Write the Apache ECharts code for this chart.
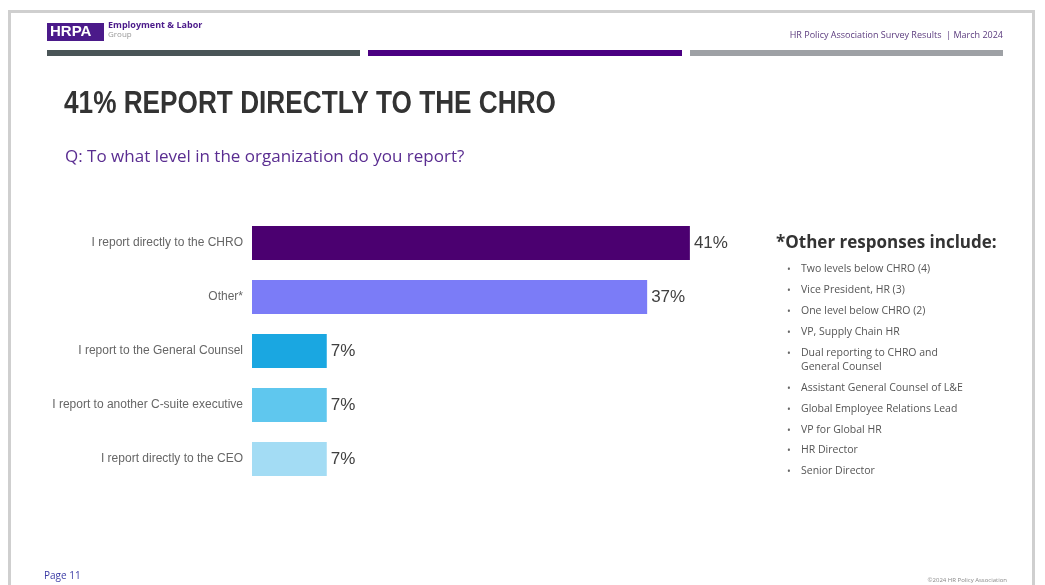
<!DOCTYPE html>
<html><head><meta charset="utf-8">
<script src="https://cdn.jsdelivr.net/npm/echarts@6/dist/echarts.min.js"></script>
<style>
html,body{margin:0;padding:0;background:#fff;}
#frame{position:absolute;left:8px;top:10px;width:1021px;height:600px;border:3px solid #cfcfcf;background:#fff;}
#chart{position:absolute;left:0;top:0;width:1045px;height:585px;}
</style></head>
<body>
<div id="frame"></div>
<div id="chart"></div>
<script>
const categories = ["I report directly to the CHRO","Other*","I report to the General Counsel","I report to another C-suite executive","I report directly to the CEO"];
const values = [41, 37, 7, 7, 7];
const barColors = ["#4b0070","#7b7cf7","#1aa7e1","#5fc7ee","#a3dcf4"];
const otherResponses = ["Two levels below CHRO (4)","Vice President, HR (3)","One level below CHRO (2)","VP, Supply Chain HR","Dual reporting to CHRO and\nGeneral Counsel","Assistant General Counsel of L&E","Global Employee Relations Lead","VP for Global HR","HR Director","Senior Director"];
const titleText = "41% REPORT DIRECTLY TO THE CHRO";
const subtitleText = "Q: To what level in the organization do you report?";

const chart = echarts.init(document.getElementById('chart'), null, {renderer:'canvas'});

const bulletY = [270,291,312,333,354,389,410,431,451,472];
const bulletEls = [];
otherResponses.forEach((t,i)=>{
  bulletEls.push({type:'text',x:787,y:bulletY[i],style:{text:'•',font:'10px "Open Sans"',fill:'#666',verticalAlign:'middle',textVerticalAlign:'middle'}});
  bulletEls.push({type:'text',x:801,y:bulletY[i]-7.5,style:{text:t,font:'10.5px "Open Sans"',fill:'#555',lineHeight:14,verticalAlign:'top',textVerticalAlign:'top'}});
});

chart.setOption({
  animation:false,
  grid:{left:252,top:216,width:534,height:270,containLabel:false},
  xAxis:{type:'value',min:0,max:50,show:false},
  yAxis:{type:'category',data:categories,inverse:true,
    axisLine:{show:false},axisTick:{show:false},
    axisLabel:{color:'#666',fontSize:12,fontFamily:'"Liberation Sans",sans-serif',margin:9}},
  series:[{type:'bar',barWidth:34,
    data:values.map((v,i)=>({value:v,itemStyle:{color:barColors[i]}})),
    label:{show:true,position:'right',distance:4,formatter:'{c}%',color:'#404040',fontSize:17,fontFamily:'"Liberation Sans",sans-serif'}}],
  graphic:[
    {type:'rect',shape:{x:47,y:23,width:57,height:18},style:{fill:'#4b1a8a'}},
    {type:'text',left:50,top:24,style:{text:'HRPA',font:'bold 15px "Liberation Sans"',fill:'#fff'}},
    {type:'text',left:108,top:21,style:{text:'Employment & Labor',font:'bold 9px "Open Sans"',fill:'#4b1a8a'}},
    {type:'text',left:108,top:31,style:{text:'Group',font:'8px "Open Sans"',fill:'#999'}},
    {type:'text',right:42,top:31,style:{text:'HR Policy Association Survey Results  | March 2024',font:'9px "Open Sans"',fill:'#5b3b7e'}},
    {type:'rect',shape:{x:47,y:50,width:313,height:6},style:{fill:'#4a5557'}},
    {type:'rect',shape:{x:368,y:50,width:314,height:6},style:{fill:'#4b0082'}},
    {type:'rect',shape:{x:690,y:50,width:313,height:6},style:{fill:'#9ea1a5'}},
    {type:'text',x:64,y:104,scaleX:0.845,style:{text:titleText,font:'bold 31px "Liberation Sans"',fill:'#333',verticalAlign:'middle',textVerticalAlign:'middle'}},
    {type:'text',x:65,y:157,style:{text:subtitleText,font:'17px "Open Sans"',fill:'#5a2d91',verticalAlign:'middle',textVerticalAlign:'middle'}},
    {type:'text',x:776,y:243,style:{text:'*Other responses include:',font:'bold 17px "Open Sans"',fill:'#333',verticalAlign:'middle',textVerticalAlign:'middle'}},
    ...bulletEls,
    {type:'text',left:44,top:571,style:{text:'Page 11',font:'10px "Open Sans"',fill:'#3b3ba5'}},
    {type:'text',right:38,top:577,style:{text:'©2024 HR Policy Association',font:'6px "Open Sans"',fill:'#888'}}
  ]
});
</script>
</body></html>
